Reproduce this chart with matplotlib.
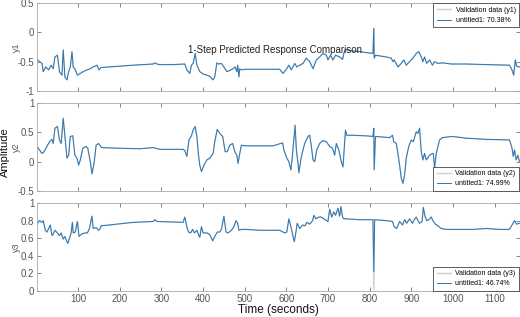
import matplotlib
matplotlib.use("Agg")
import matplotlib.pyplot as plt
from matplotlib.ticker import FormatStrFormatter

plt.rcParams['font.family'] = ['Liberation Sans', 'DejaVu Sans']
plt.rcParams['axes.unicode_minus'] = False

# ---- data (time in seconds) ----
t_y1 = [1, 7, 13, 16, 22, 29, 35, 40, 44, 50, 55, 61, 64, 68, 73, 77, 81, 85, 88, 93, 98, 105, 112, 121, 129,
        136, 145, 150, 155, 193, 232, 280, 284, 289, 296, 328, 356, 361, 368, 372, 376, 381, 385, 389, 392,
        400, 409, 416, 424, 428, 433, 437, 444, 450, 457, 464, 472, 477, 481, 483, 486, 488, 492, 501, 536,
        584, 592, 601, 606, 612, 620, 625, 632, 640, 648, 656, 664, 672, 680, 688, 696, 700, 706, 712, 718,
        728, 735, 738, 742, 752, 776, 808, 810, 811, 814, 840, 852, 856, 859, 868, 876, 882, 888, 896, 904,
        912, 918, 924, 928, 932, 937, 944, 951, 956, 964, 975, 996, 1032, 1080, 1136, 1142, 1146, 1150,
        1153, 1160]
y1 = [-0.46, -0.50, -0.53, -0.67, -0.59, -0.64, -0.56, -0.62, -0.42, -0.39, -0.67, -0.73, -0.30, -0.76,
      -0.81, -0.67, -0.59, -0.33, -0.59, -0.64, -0.73, -0.70, -0.67, -0.64, -0.62, -0.59, -0.56, -0.64,
      -0.60, -0.58, -0.56, -0.54, -0.52, -0.54, -0.55, -0.55, -0.54, -0.64, -0.70, -0.56, -0.53, -0.36,
      -0.56, -0.62, -0.67, -0.71, -0.73, -0.75, -0.81, -0.76, -0.52, -0.54, -0.53, -0.59, -0.67, -0.65,
      -0.62, -0.59, -0.67, -0.56, -0.76, -0.62, -0.64, -0.63, -0.63, -0.63, -0.70, -0.62, -0.56, -0.64,
      -0.53, -0.59, -0.56, -0.53, -0.44, -0.50, -0.62, -0.47, -0.42, -0.36, -0.39, -0.47, -0.39, -0.47,
      -0.39, -0.42, -0.46, -0.36, -0.29, -0.31, -0.33, -0.36, 0.07, -0.44, -0.39, -0.42, -0.44, -0.50,
      -0.47, -0.59, -0.53, -0.47, -0.56, -0.50, -0.44, -0.36, -0.33, -0.42, -0.50, -0.42, -0.53, -0.47,
      -0.56, -0.50, -0.53, -0.52, -0.54, -0.54, -0.55, -0.56, -0.64, -0.73, -0.47, -0.58, -0.59]

t_y2 = [1, 7, 13, 18, 25, 31, 37, 40, 44, 50, 55, 59, 64, 68, 73, 77, 81, 87, 92, 97, 101, 105, 111, 119, 123,
        129, 133, 138, 143, 149, 156, 193, 249, 280, 296, 352, 356, 361, 366, 372, 376, 381, 385, 389, 392,
        396, 402, 409, 416, 424, 428, 434, 440, 447, 453, 458, 464, 471, 476, 481, 484, 488, 492, 501, 536,
        568, 591, 594, 601, 606, 611, 615, 621, 624, 628, 630, 636, 644, 652, 656, 660, 664, 668, 673, 680,
        688, 696, 704, 711, 716, 720, 726, 732, 736, 740, 742, 745, 760, 792, 808, 810, 811, 814, 848, 855,
        858, 864, 868, 872, 876, 880, 884, 888, 894, 900, 905, 912, 916, 920, 924, 928, 932, 936, 944, 951,
        953, 956, 960, 968, 975, 999, 1032, 1080, 1136, 1142, 1145, 1148, 1152, 1156, 1160]
y2 = [0.26, 0.20, 0.14, 0.17, 0.26, 0.34, 0.38, 0.31, 0.57, 0.60, 0.37, 0.31, 0.74, 0.43, 0.06, 0.11, 0.43,
      0.44, 0.11, 0.06, -0.06, 0.03, 0.23, 0.26, 0.23, 0.00, -0.21, -0.03, 0.28, 0.31, 0.24, 0.23, 0.22,
      0.24, 0.21, 0.21, 0.19, 0.09, 0.37, 0.44, 0.54, 0.60, 0.43, 0.11, -0.06, -0.17, -0.06, 0.03, 0.06,
      0.14, 0.34, 0.55, 0.48, 0.43, 0.17, 0.17, 0.28, 0.31, 0.17, 0.11, -0.03, 0.14, 0.28, 0.27, 0.27,
      0.27, 0.32, 0.20, 0.06, 0.00, -0.14, 0.14, 0.62, 0.20, -0.03, -0.19, 0.09, 0.31, 0.43, 0.45, 0.26,
      0.03, 0.00, 0.20, 0.31, 0.36, 0.34, 0.26, 0.23, 0.11, 0.31, 0.20, 0.00, -0.09, 0.34, 0.54, 0.45,
      0.45, 0.44, 0.43, 0.57, -0.14, 0.43, 0.41, 0.45, 0.34, 0.31, 0.14, -0.06, -0.28, -0.37, -0.23, 0.06,
      0.26, 0.37, 0.34, 0.51, 0.48, 0.57, 0.17, 0.03, 0.14, 0.03, 0.11, 0.14, 0.14, -0.11, 0.14, 0.37,
      0.41, 0.43, 0.40, 0.38, 0.37, 0.23, 0.09, 0.20, 0.03, 0.11, 0.00]

t_y3 = [1, 7, 13, 16, 21, 25, 29, 33, 37, 40, 44, 50, 55, 59, 64, 68, 73, 75, 79, 83, 86, 88, 93, 98, 102, 109,
        117, 122, 127, 133, 136, 143, 149, 153, 155, 193, 232, 280, 284, 289, 352, 356, 361, 365, 370, 375,
        379, 385, 389, 392, 396, 400, 409, 416, 423, 428, 434, 440, 444, 450, 455, 460, 468, 474, 479, 483,
        486, 492, 505, 536, 584, 596, 601, 606, 612, 616, 619, 623, 626, 632, 639, 645, 649, 656, 663, 666,
        671, 678, 684, 690, 700, 704, 709, 714, 718, 724, 728, 731, 735, 738, 744, 776, 808, 810, 812, 840,
        855, 859, 865, 872, 879, 884, 889, 896, 903, 907, 912, 916, 920, 926, 929, 933, 937, 942, 948, 952,
        958, 964, 972, 984, 1016, 1047, 1080, 1112, 1136, 1142, 1148, 1153, 1160]
y3 = [0.76, 0.80, 0.78, 0.80, 0.69, 0.67, 0.71, 0.75, 0.63, 0.65, 0.69, 0.66, 0.63, 0.66, 0.59, 0.62, 0.56,
      0.54, 0.60, 0.66, 0.78, 0.66, 0.67, 0.79, 0.62, 0.65, 0.66, 0.66, 0.71, 0.85, 0.71, 0.72, 0.69, 0.71,
      0.74, 0.76, 0.78, 0.79, 0.81, 0.79, 0.78, 0.84, 0.73, 0.67, 0.66, 0.70, 0.66, 0.69, 0.64, 0.61, 0.73,
      0.66, 0.66, 0.64, 0.57, 0.62, 0.67, 0.67, 0.70, 0.85, 0.67, 0.66, 0.69, 0.73, 0.80, 0.77, 0.69, 0.70,
      0.70, 0.69, 0.69, 0.66, 0.67, 0.82, 0.71, 0.62, 0.56, 0.67, 0.77, 0.71, 0.75, 0.74, 0.78, 0.76, 0.80,
      0.86, 0.82, 0.84, 0.84, 0.82, 0.79, 0.93, 0.84, 0.90, 0.86, 0.94, 0.85, 0.96, 0.84, 0.82, 0.82, 0.81,
      0.81, 0.22, 0.81, 0.80, 0.79, 0.73, 0.71, 0.79, 0.75, 0.81, 0.77, 0.82, 0.77, 0.81, 0.84, 0.80, 0.77,
      0.79, 0.95, 0.85, 0.80, 0.81, 0.84, 0.80, 0.76, 0.74, 0.71, 0.70, 0.70, 0.70, 0.71, 0.70, 0.70, 0.75,
      0.80, 0.76, 0.77]
# validation data dips further than the model at the glitch near t=810
y3_val = [0.02 if t == 810 else v for t, v in zip(t_y3, y3)]

channels = ["y1", "y2", "y3"]
fits = ["70.38%", "74.99%", "46.74%"]
yticks = [[-1, -0.5, 0, 0.5], [-0.5, 0, 0.5, 1], [0, 0.2, 0.4, 0.6, 0.8, 1]]
ylims = [(-1, 0.5), (-0.5, 1), (0, 1)]
xticks = [100, 200, 300, 400, 500, 600, 700, 800, 900, 1000, 1100]

series = [(t_y1, y1, y1), (t_y2, y2, y2), (t_y3, y3_val, y3)]

blue = '#2a76b4'
grey = '#cfcfcf'

fig = plt.figure(figsize=(5.2, 3.17), dpi=100)
left, width = 37 / 520, 482.5 / 520
bottoms = [1 - 91 / 317, 1 - 191 / 317, 1 - 291 / 317]
h = 88 / 317

for i in range(3):
    ax = fig.add_axes([left, bottoms[i], width, h])
    t, val, mod = series[i]
    ax.plot(t, val, color=grey, lw=1.0, label="Validation data (%s)" % channels[i])
    ax.plot(t, mod, color=blue, lw=0.7, label="untitled1: %s" % fits[i])
    ax.set_xlim(1, 1160)
    ax.set_ylim(*ylims[i])
    ax.set_yticks(yticks[i])
    ax.yaxis.set_major_formatter(FormatStrFormatter('%g'))
    ax.set_xticks(xticks)
    ax.tick_params(direction='in', length=3, width=0.5, top=True, right=True,
                   labelsize=7, colors='#555555', pad=2)
    if i < 2:
        ax.tick_params(labelbottom=False)
    for s in ax.spines.values():
        s.set_color('#aaaaaa')
        s.set_linewidth(0.6)
    ax.set_ylabel(channels[i], fontsize=6.5, color='#555555')
    ax.yaxis.set_label_coords(-0.033, 0.5)
    loc = 'upper right' if i == 0 else 'lower right'
    leg = ax.legend(loc=loc, fontsize=5.0, borderaxespad=0.05,
                    handlelength=2.0, frameon=True, fancybox=False,
                    borderpad=0.5, labelspacing=0.45, handletextpad=0.7)
    leg.get_frame().set_edgecolor('#444444')
    leg.get_frame().set_linewidth(0.6)
    leg.get_frame().set_alpha(1)

fig.text(275 / 520, 1 - 50 / 317, "1-Step Predicted Response Comparison",
         ha='center', va='center', fontsize=7, color='#222222')
fig.text(4.5 / 520, 1 - 152 / 317, "Amplitude", rotation=90, ha='center', va='center',
         fontsize=8, color='#111111')
fig.text(278 / 520, 1 - 310 / 317, "Time (seconds)", ha='center', va='center',
         fontsize=8.5, color='#111111')

plt.savefig("out.png", dpi=100)
